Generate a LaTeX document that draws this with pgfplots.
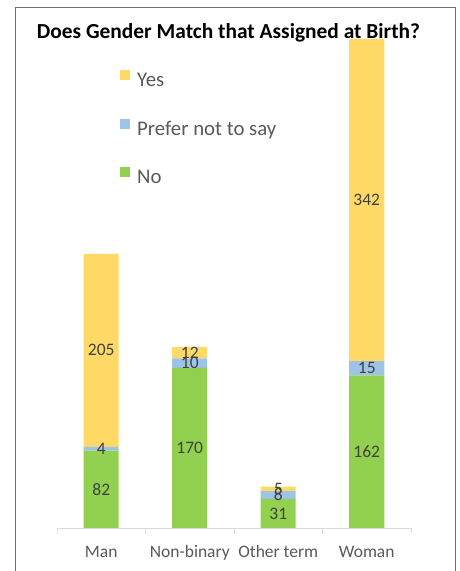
\documentclass[border=0pt]{standalone}
\usepackage{pgfplots}
\pgfplotsset{compat=1.18}
\usepackage{fontspec}
\setmainfont{Carlito}
\definecolor{cyes}{HTML}{FFD966}
\definecolor{cpref}{HTML}{9DC3E6}
\definecolor{cno}{HTML}{92D050}
\definecolor{ctick}{HTML}{595959}
\definecolor{clab}{HTML}{404040}
\definecolor{caxis}{HTML}{D9D9D9}
\definecolor{cborder}{HTML}{6F6F6F}
\pgfplotstableread{
x val
0 82
1 170
2 31
3 162
}\tno
\pgfplotstableread{
x val
0 4
1 10
2 8
3 15
}\tpref
\pgfplotstableread{
x val
0 205
1 12
2 5
3 342
}\tyes
\begin{document}
\begin{tikzpicture}
\path[use as bounding box] (-57pt,-43pt) rectangle (403pt,528pt);
\clip (-57pt,-43pt) rectangle (403pt,528pt);
\draw[color=cborder, line width=0.9pt] (-42pt,-60pt) -- (-42pt,521pt) -- (398pt,521pt) -- (398pt,-60pt);
\begin{axis}[
  scale only axis, width=354pt, height=490pt,
  ybar stacked, bar width=35pt,
  xmin=-0.5, xmax=3.5, ymin=0, ymax=520,
  axis x line*=bottom, axis y line=none,
  x axis line style={-, draw=caxis, line width=0.8pt},
  xtick={0,1,2,3}, xticklabels={Man,Non-binary,Other term,Woman},
  minor xtick={-0.5,0.5,1.5,2.5,3.5},
  major tick length=0pt, minor tick length=5pt,
  tick align=outside,
  minor tick style={draw=caxis, line width=0.8pt},
  x tick label style={font=\fontsize{17.5}{20}\selectfont, text=ctick, inner sep=0pt, text height=12pt, text depth=4pt, yshift=-17pt},
  /pgf/number format/assume math mode=true,
  nodes near coords,
  every node near coord/.append style={anchor=center, font=\fontsize{17.5}{20}\selectfont, text=clab},
  legend style={at={(axis description cs:0.178,0.935)}, anchor=north west, draw=none, fill=none, inner sep=0pt,
    font=\fontsize{20.8}{24}\selectfont, text=ctick, row sep=28pt, column sep=7pt,
    nodes={inner sep=0pt, text height=14pt, text depth=4pt}},
  legend cell align=left,
  reverse legend,
  legend image code/.code={\fill[#1] (0pt,1.5pt) rectangle (10pt,11.5pt);},
]
\addplot[fill=cno, draw=none] table[x=x, y=val] {\tno};
\addlegendentry{No}
\addplot[fill=cpref, draw=none] table[x=x, y=val] {\tpref};
\addlegendentry{Prefer not to say}
\addplot[fill=cyes, draw=none] table[x=x, y=val] {\tyes};
\addlegendentry{Yes}
\end{axis}
\node[font=\bfseries\fontsize{21.4}{24}\selectfont] at (171.5pt,495pt) {Does Gender Match that Assigned at Birth?};
\end{tikzpicture}
\end{document}
